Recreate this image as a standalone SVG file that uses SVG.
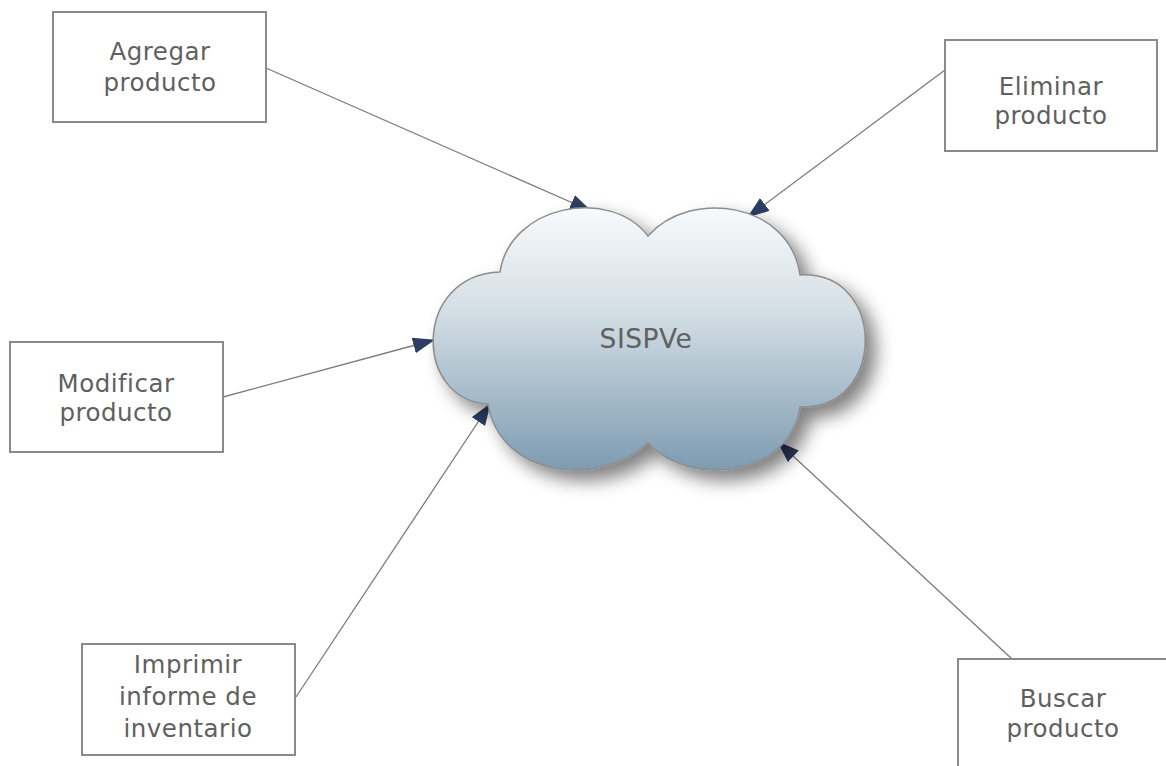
<svg xmlns="http://www.w3.org/2000/svg" width="1166" height="766" viewBox="0 0 1166 766">
  <style>
    .box { fill: #ffffff; stroke: #8a8a8a; stroke-width: 2; }
    .label { font-family: "DejaVu Sans", Verdana, sans-serif; font-size: 24.5px; fill: #606060; text-anchor: middle; letter-spacing: 0.5px; }
    .edge { stroke: #7a7a7a; stroke-width: 1.3; fill: none; marker-end: url(#arrow); }
  </style>
  <defs>
    <marker id="arrow" viewBox="0 0 22 16" refX="21" refY="8" markerWidth="22" markerHeight="16" markerUnits="userSpaceOnUse" orient="auto">
      <path d="M0 0 L22 8 L0 16 Z" fill="#2d3d63"/>
    </marker>
    <linearGradient id="cloudFill" x1="0" y1="0" x2="0" y2="1">
      <stop offset="0" stop-color="#f8fafb"/>
      <stop offset="0.4" stop-color="#d3dee5"/>
      <stop offset="1" stop-color="#7d9bb1"/>
    </linearGradient>
    <filter id="shadow" x="-20%" y="-20%" width="145%" height="155%">
      <feGaussianBlur in="SourceAlpha" stdDeviation="9"/>
      <feOffset dx="10" dy="10" result="blur"/>
      <feComponentTransfer><feFuncA type="linear" slope="0.5"/></feComponentTransfer>
      <feMerge><feMergeNode/><feMergeNode in="SourceGraphic"/></feMerge>
    </filter>
  </defs>
  <rect width="1166" height="766" fill="#ffffff"/>

  <!-- connectors -->
  <g id="connectors">
    <line class="edge" x1="266" y1="68" x2="591" y2="211"/>
    <line class="edge" x1="945" y1="70" x2="748" y2="217"/>
    <line class="edge" x1="223" y1="397" x2="434" y2="340"/>
    <line class="edge" x1="296" y1="697" x2="490" y2="404"/>
    <line class="edge" x1="1012" y1="659" x2="778" y2="442"/>
  </g>

  <!-- central cloud -->
  <g id="sispve">
    <path filter="url(#shadow)" fill="url(#cloudFill)" stroke="#8c8c8c" stroke-width="1.5"
      d="M500 272 C510 205 610 186 648 236 C690 188 790 202 800 275 C887 270 887 410 800 407 C790 477 690 488 648 443 C600 488 500 478 488 404 C413 400 413 275 500 272 Z"/>
    <text class="label" x="646" y="348" style="font-size:26.5px">SISPVe</text>
  </g>

  <g id="agregar">
    <rect class="box" x="53" y="12" width="213" height="110"/>
    <text class="label" x="160" y="60">Agregar</text>
    <text class="label" x="160" y="91">producto</text>
  </g>

  <g id="eliminar">
    <rect class="box" x="945" y="40" width="212" height="111"/>
    <text class="label" x="1051" y="95">Eliminar</text>
    <text class="label" x="1051" y="124">producto</text>
  </g>

  <g id="modificar">
    <rect class="box" x="10" y="342" width="213" height="110"/>
    <text class="label" x="116" y="392">Modificar</text>
    <text class="label" x="116" y="421">producto</text>
  </g>

  <g id="imprimir">
    <rect class="box" x="82" y="644" width="213" height="111"/>
    <text class="label" x="188" y="673">Imprimir</text>
    <text class="label" x="188" y="705">informe de</text>
    <text class="label" x="188" y="737">inventario</text>
  </g>

  <g id="buscar">
    <rect class="box" x="958" y="659" width="212" height="112"/>
    <text class="label" x="1063" y="707">Buscar</text>
    <text class="label" x="1063" y="737">producto</text>
  </g>
</svg>
